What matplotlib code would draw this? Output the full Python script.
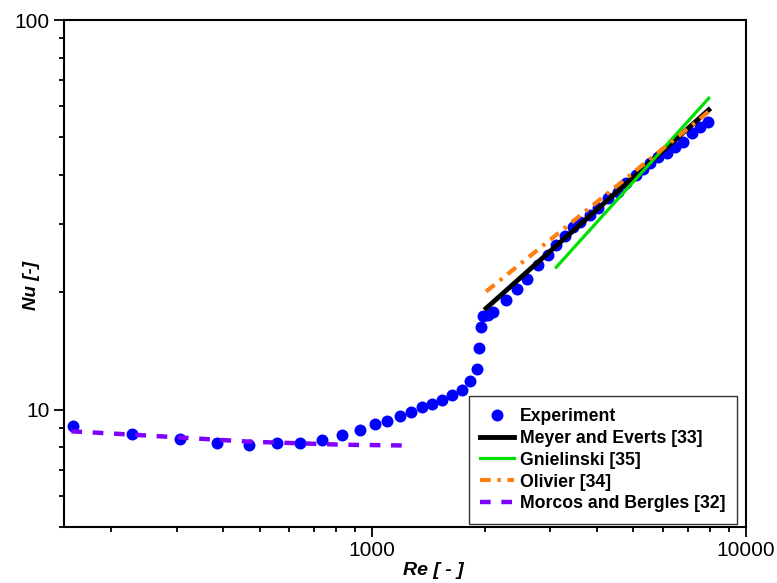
import matplotlib
matplotlib.use('Agg')
from matplotlib import pyplot as plt

plt.rcParams['font.family'] = ['Liberation Sans', 'DejaVu Sans']

# experiment
exp_re = [159, 228, 306, 384, 468, 556, 641, 735, 831, 929, 1019, 1097, 1189,
          1272, 1359, 1445, 1537, 1636, 1735, 1831, 1904, 1927, 1956, 1984,
          2037, 2110, 2283, 2437, 2593, 2775, 2951, 3108, 3271, 3444, 3589,
          3818, 4018, 4274, 4546, 4786, 5093, 5305, 5529, 5820, 6132, 6451,
          6790, 7152, 7527, 7925]
exp_nu = [9.10, 8.67, 8.43, 8.23, 8.13, 8.23, 8.23, 8.38, 8.63, 8.89, 9.19,
          9.37, 9.61, 9.87, 10.14, 10.36, 10.61, 10.93, 11.25, 11.87, 12.72,
          14.39, 16.26, 17.35, 17.52, 17.80, 19.15, 20.39, 21.67, 23.54, 24.97,
          26.49, 27.94, 29.51, 30.40, 31.62, 32.89, 34.90, 36.29, 38.14, 40.06,
          41.43, 42.92, 44.46, 45.52, 47.33, 48.75, 51.22, 53.26, 54.85]

# correlations
meyer_re = [2018, 7950]
meyer_nu = [18.2, 58.8]
gniel_re = [3108, 7950]
gniel_nu = [23.2, 63.0]
olivier_re = [2018, 7950]
olivier_nu = [20.1, 58.2]
morcos_re = [157, 228, 468, 831, 1270]
morcos_nu = [8.80, 8.63, 8.28, 8.13, 8.09]

fig = plt.figure(figsize=(7.77, 5.83), dpi=100)
ax = fig.add_axes([64/777, 56/583, 682/777, 507/583])

ax.plot(morcos_re, morcos_nu, color='#8000ff', lw=3.2, dashes=(2.4, 2.4),
        label='Morcos and Bergles [32]', zorder=3)
ax.plot(exp_re, exp_nu, 'o', color='#0000ff', ms=8.6, mec='none',
        label='Experiment', zorder=2)
ax.plot(meyer_re, meyer_nu, color='black', lw=3.5,
        label='Meyer and Everts [33]', zorder=4)
ax.plot(gniel_re, gniel_nu, color='#00e000', lw=2.3,
        label='Gnielinski [35]', zorder=5)
ax.plot(olivier_re, olivier_nu, color='#ff7f0e', lw=3,
        dashes=(2.6, 1.6, 0.8, 1.6), label='Olivier [34]', zorder=6)

ax.set_xscale('log')
ax.set_yscale('log')
ax.set_xlim(150, 10000)
ax.set_ylim(5, 100)

ax.set_xticks([1000, 10000])
ax.set_xticklabels(['1000', '10000'])
ax.set_yticks([10, 100])
ax.set_yticklabels(['10', '100'])
ax.tick_params(which='major', length=7.2, width=1.3, labelsize=15, direction='out',
               top=False, right=False, pad=3)
ax.tick_params(which='minor', length=3.8, width=1.3, top=False, right=False,
               labelleft=False, labelbottom=False)
for s in ax.spines.values():
    s.set_linewidth(1.5)

ax.set_xlabel('Re [ - ]', fontsize=14, fontweight='bold', style='italic', va='center')
ax.xaxis.set_label_coords(0.541, -0.085)
ax.set_ylabel('Nu [-]', fontsize=13.5, fontweight='bold', style='italic', va='center')
ax.yaxis.set_label_coords(-0.047, 0.477)

handles, labels = ax.get_legend_handles_labels()
order = [1, 2, 3, 4, 0]
leg = ax.legend([handles[i] for i in order], [labels[i] for i in order],
                loc='lower right', bbox_to_anchor=(0.987, 0.006),
                borderaxespad=0, fancybox=False, framealpha=1,
                edgecolor='#333333', numpoints=1, handlelength=1.9,
                handletextpad=0.35, labelspacing=0.28, borderpad=0.65,
                prop={'weight': 'bold', 'size': 12.7})
leg.get_frame().set_linewidth(1.0)

fig.savefig('out.png', dpi=100)
